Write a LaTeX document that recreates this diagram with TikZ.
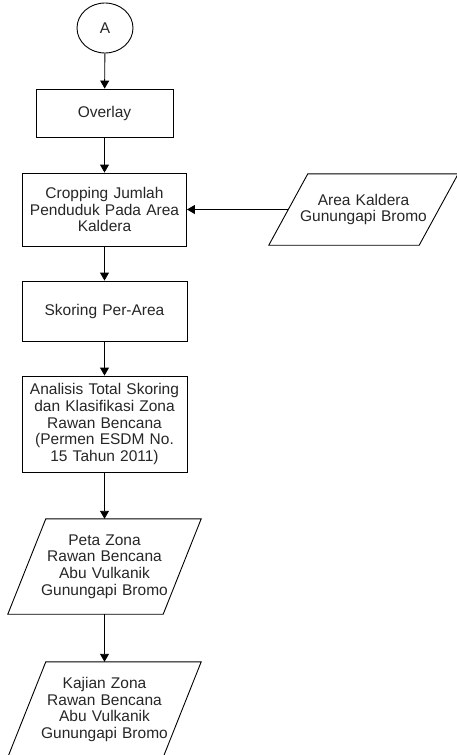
\documentclass[tikz,border=0pt]{standalone}
\usepackage{fontspec}
\setmainfont{Liberation Sans}
\usetikzlibrary{arrows.meta,shapes.geometric}
\begin{document}
\begin{tikzpicture}[x=1pt,y=-1pt,
  every node/.style={font=\fontsize{15.5}{16.7}\selectfont, text=black!85, align=center, inner sep=0pt},
  proc/.style={draw, line width=0.9pt, rectangle, text width=#1},
  io/.style={rectangle, text width=#1},
  conn/.style={draw, line width=0.9pt, ellipse, minimum width=56pt, minimum height=50pt},
  arr/.style={line width=0.9pt, -{Triangle[length=8pt,width=9pt]}},
  pshape/.style={line width=0.9pt}
]
\useasboundingbox (0,0) rectangle (456,755);

\node[conn] (A) at (105,28) {A};
\node[proc=137pt, minimum height=48pt] (ov) at (104.5,113) {Overlay};
\node[proc=164pt, minimum height=73pt] (crop) at (104.5,209.5) {Cropping Jumlah\\Penduduk Pada Area\\Kaldera};
\node[io=150pt, minimum height=71pt] (area) at (363.5,209.5) {Area Kaldera\\Gunungapi Bromo};
\node[proc=165pt, minimum height=60pt] (skor) at (104.5,311) {Skoring Per-Area};
\node[proc=165pt, minimum height=96pt] (anal) at (104.5,424) {Analisis Total Skoring\\dan Klasifikasi Zona\\Rawan Bencana\\(Permen ESDM No.\\15 Tahun 2011)};
\node[io=155pt, minimum height=95pt] (peta) at (104.5,566.5) {Peta Zona\\Rawan Bencana\\Abu Vulkanik\\Gunungapi Bromo};
\node[io=155pt, minimum height=95pt] (kaj) at (104.5,709.5) {Kajian Zona\\Rawan Bencana\\Abu Vulkanik\\Gunungapi Bromo};

\foreach \n/\s in {area/19.5, peta/19, kaj/19}{
  \draw[pshape] ([xshift=\s pt]\n.north west) -- ([xshift=\s pt]\n.north east)
    -- ([xshift=-\s pt]\n.south east) -- ([xshift=-\s pt]\n.south west) -- cycle;
}

\draw[arr] (A) -- (ov);
\draw[arr] (ov) -- (crop);
\draw[arr] (area.west) -- (crop.east);
\draw[arr] (crop) -- (skor);
\draw[arr] (skor) -- (anal);
\draw[arr] (anal) -- (peta);
\draw[arr] (peta) -- (kaj);
\end{tikzpicture}
\end{document}
